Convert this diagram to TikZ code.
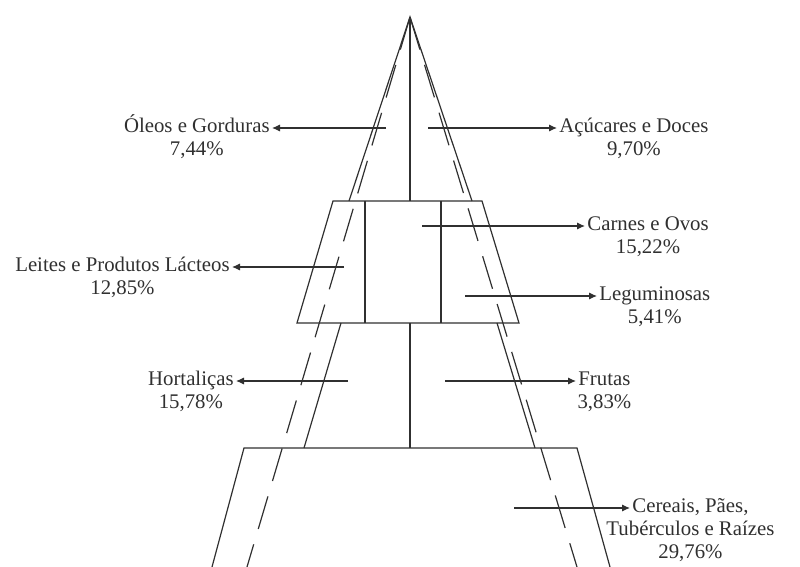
\documentclass[tikz,border=0pt]{standalone}
\usepackage{fontspec}
\setmainfont{Liberation Serif}
\usepackage{tikz}
\usetikzlibrary{arrows.meta,positioning}
\definecolor{ink}{HTML}{303030}
\tikzset{
  edge/.style    = {draw=ink,line width=0.6pt},
  guide/.style   = {draw=ink,line width=0.6pt,dash pattern=on 17pt off 8pt},
  arr/.style     = {-{Latex[length=4pt,width=3.6pt]},draw=ink,line width=0.55pt},
  lbl/.style     = {text=ink,inner sep=1pt,text height=7pt,text depth=2pt,
                     font=\fontsize{10.4}{11}\selectfont},
}

\begin{document}
\begin{tikzpicture}[x=0.5pt,y=-0.5pt]
  \useasboundingbox (0,0) rectangle (800,567);
  % pyramid
  \coordinate (top) at (410,17);
  \draw[guide] (top) -- (247,567);
  \draw[guide] (top) -- (577,567);
  \draw[edge] (349,201) -- (top) -- (472,201);
  \draw[edge] (top) -- (410,201);
  % middle band
  \draw[edge] (333,201) -- (482,201) -- (519,323) -- (297,323) -- cycle;
  \draw[edge] (365,201) -- (365,323);
  \draw[edge] (441,201) -- (441,323);
  % lower band
  \draw[edge] (341,323) -- (304,448);
  \draw[edge] (497,323) -- (535,448);
  \draw[edge] (410,323) -- (410,448);
  % base
  \draw[edge] (212,567) -- (244,448) -- (577,448) -- (610,567);
  % labels
  \node[lbl,anchor=east] (oleo) at (272,128) {Óleos e Gorduras};
  \node[lbl,below=0pt of oleo] (oleo-p) {7,44\%};
  \node[lbl,anchor=west] (acuc) at (557,128) {Açúcares e Doces};
  \node[lbl,below=0pt of acuc] (acuc-p) {9,70\%};
  \node[lbl,anchor=west] (carn) at (585,226) {Carnes e Ovos};
  \node[lbl,below=0pt of carn] (carn-p) {15,22\%};
  \node[lbl,anchor=east] (leit) at (232,267) {Leites e Produtos Lácteos};
  \node[lbl,below=0pt of leit] (leit-p) {12,85\%};
  \node[lbl,anchor=west] (legu) at (597,296) {Leguminosas};
  \node[lbl,below=0pt of legu] (legu-p) {5,41\%};
  \node[lbl,anchor=east] (hort) at (236,381) {Hortaliças};
  \node[lbl,below=0pt of hort] (hort-p) {15,78\%};
  \node[lbl,anchor=west] (frut) at (576,381) {Frutas};
  \node[lbl,below=0pt of frut] (frut-p) {3,83\%};
  \node[lbl,anchor=west] (cere) at (630,508) {Cereais, Pães,};
  \node[lbl,below=0pt of cere] (cere-t) {Tubérculos e Raízes};
  \node[lbl,below=0pt of cere-t] (cere-p) {29,76\%};
  % arrows
  \coordinate (oleo-s) at (386,128);
  \coordinate (acuc-s) at (428,128);
  \coordinate (carn-s) at (422,226);
  \coordinate (leit-s) at (344,267);
  \coordinate (legu-s) at (465,296);
  \coordinate (hort-s) at (348,381);
  \coordinate (frut-s) at (445,381);
  \coordinate (cere-s) at (514,508);
  \foreach \n/\side in {oleo/east,acuc/west,carn/west,leit/east,
                        legu/west,hort/east,frut/west,cere/west}
    \draw[arr] (\n-s) -- (\n.\side);
\end{tikzpicture}
\end{document}
